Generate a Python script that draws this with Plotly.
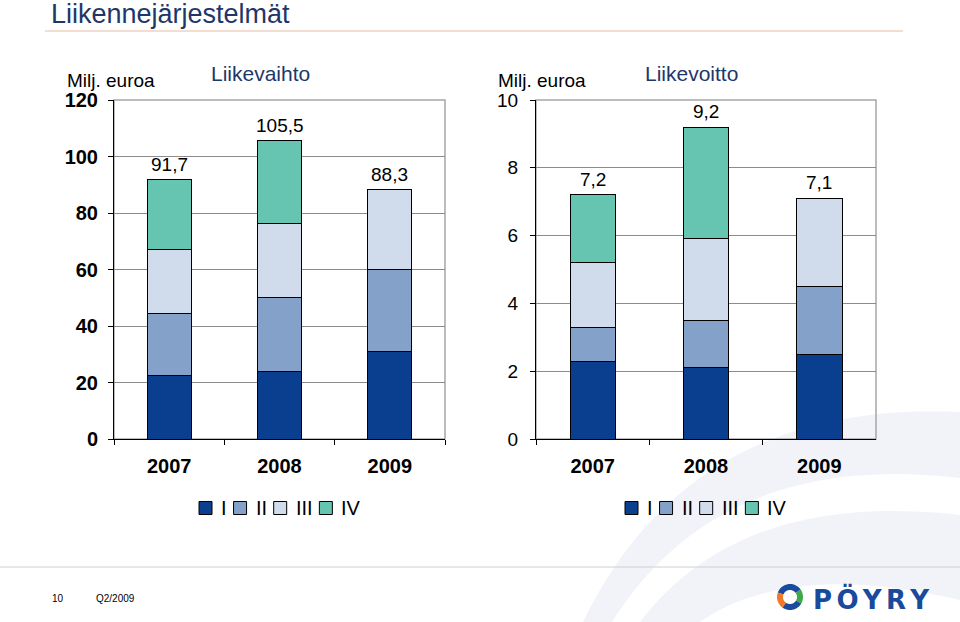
import plotly.graph_objects as go
import numpy as np

# ---------------- data ----------------
years = ["2007", "2008", "2009"]
quarters = ["I", "II", "III", "IV"]

rev_I = [22.6, 23.8, 31.1]
rev_II = [21.7, 26.4, 28.8]
rev_III = [22.8, 26.2, 28.4]
rev_IV = [24.6, 29.1, None]
rev_total = [91.7, 105.5, 88.3]

ebit_I = [2.3, 2.1, 2.5]
ebit_II = [1.0, 1.4, 2.0]
ebit_III = [1.9, 2.4, 2.6]
ebit_IV = [2.0, 3.3, None]
ebit_total = [7.2, 9.2, 7.1]

rev_ticks = [0, 20, 40, 60, 80, 100, 120]
ebit_ticks = [0, 2, 4, 6, 8, 10]

q_colors = ["#0A3F8F", "#84A1C9", "#D0DCEC", "#66C5B0"]

FONT = "Liberation Sans, Arial, sans-serif"
NAVY = "#1E3768"
W, H = 960, 622


def X(px):
    return px / W


def Y(py):
    return 1 - py / H


fig = go.Figure()

rev_series = [rev_I, rev_II, rev_III, rev_IV]
ebit_series = [ebit_I, ebit_II, ebit_III, ebit_IV]

for q, vals, c in zip(quarters, rev_series, q_colors):
    fig.add_trace(go.Bar(x=years, y=vals, name=q, marker=dict(color=c, line=dict(color="#000000", width=1)),
                         xaxis="x", yaxis="y", showlegend=False, hoverinfo="skip"))
for q, vals, c in zip(quarters, ebit_series, q_colors):
    fig.add_trace(go.Bar(x=years, y=vals, name=q, marker=dict(color=c, line=dict(color="#000000", width=1)),
                         xaxis="x2", yaxis="y2", showlegend=False, hoverinfo="skip"))

ydom = [Y(439), Y(100)]

common_x = dict(type="category", tickson="boundaries", ticks="outside", ticklen=5, tickcolor="#000000",
                showline=True, linecolor="#000000", linewidth=1, showgrid=False, range=[-0.5, 2.5],
                tickfont=dict(family=FONT, size=20, color="#000000", weight="bold"), ticklabelstandoff=9,
                fixedrange=True, automargin=False)

fig.update_layout(
    width=W, height=H, margin=dict(l=0, r=0, t=0, b=0, autoexpand=False),
    paper_bgcolor="#FFFFFF", plot_bgcolor="rgba(0,0,0,0)",
    barmode="stack", bargap=0.6,
    font=dict(family=FONT, color="#000000"),
    xaxis=dict(domain=[X(114), X(445)], anchor="y", **common_x),
    xaxis2=dict(domain=[X(536), X(876)], anchor="y2", **common_x),
    yaxis=dict(domain=ydom, anchor="x", range=[0, 120], tickvals=rev_ticks, ticks="outside", ticklen=5,
               tickcolor="#000000", showline=True, linecolor="#000000", linewidth=1,
               gridcolor="#8C8C8C", gridwidth=1, zeroline=False,
               tickfont=dict(family=FONT, size=20, color="#000000", weight="bold"), ticklabelstandoff=6,
               fixedrange=True, automargin=False),
    yaxis2=dict(domain=ydom, anchor="x2", range=[0, 10], tickvals=ebit_ticks, ticks="outside", ticklen=5,
                tickcolor="#000000", showline=True, linecolor="#000000", linewidth=1,
                gridcolor="#8C8C8C", gridwidth=1, zeroline=False,
                tickfont=dict(family=FONT, size=19, color="#000000"), ticklabelstandoff=8,
                fixedrange=True, automargin=False),
    showlegend=False,
)

# ---------------- decorative background swoosh ----------------
def band(outer, inner):
    pts = list(outer) + list(inner)
    d = "M " + " L ".join(f"{X(a):.5f},{Y(b):.5f}" for a, b in pts) + " Z"
    return d


def qcurve(p0, p1, p2, n=40):
    t = np.linspace(0, 1, n)
    xs = (1 - t) ** 2 * p0[0] + 2 * (1 - t) * t * p1[0] + t ** 2 * p2[0]
    ys = (1 - t) ** 2 * p0[1] + 2 * (1 - t) * t * p1[1] + t ** 2 * p2[1]
    return list(zip(xs, ys))


sw1 = band(qcurve((583, 622), (690, 400), (960, 412)), qcurve((960, 478), (720, 450), (612, 622)))
sw2 = band(qcurve((640, 622), (740, 490), (960, 515)), qcurve((960, 600), (790, 560), (700, 622)))
for d in (sw1, sw2):
    fig.add_shape(type="path", path=d, xref="paper", yref="paper", fillcolor="#F1F3F9",
                  line=dict(width=0), layer="below")

# plot-area frames (grey top/right)
for xr, yr in (("x domain", "y domain"), ("x2 domain", "y2 domain")):
    fig.add_shape(type="rect", xref=xr, yref=yr, x0=0, x1=1, y0=0, y1=1,
                  line=dict(color="#A6A6A6", width=1.5), layer="below")

# title rule and footer rule
fig.add_shape(type="line", xref="paper", yref="paper", x0=X(45), x1=X(903), y0=Y(31), y1=Y(31),
              line=dict(color="#E8BBA2", width=1))
fig.add_shape(type="line", xref="paper", yref="paper", x0=0, x1=1, y0=Y(567), y1=Y(567),
              line=dict(color="#CFCFCF", width=1))


# ---------------- texts ----------------
def ptext(txt, x, y, size, color="#000000", xanchor="left", weight="normal", family=FONT):
    fig.add_annotation(text=txt, x=X(x), y=Y(y), xref="paper", yref="paper", showarrow=False,
                       xanchor=xanchor, yanchor="middle",
                       font=dict(family=family, size=size, color=color, weight=weight))


ptext("Liikennejärjestelmät", 49, 14, 27, NAVY)
ptext("Milj. euroa", 65, 80, 19)
ptext("Milj. euroa", 496, 80, 19)
ptext("Liikevaihto", 260, 73, 21, NAVY, "center")
ptext("Liikevoitto", 691, 73, 21, NAVY, "center")
ptext("10", 50, 598, 10)
ptext("Q2/2009", 94, 598, 10)


def fmt(v):
    return f"{v:.1f}".replace(".", ",")


for i, tot in enumerate(rev_total):
    fig.add_annotation(text=fmt(tot), x=i, y=tot, xref="x", yref="y", showarrow=False,
                       yanchor="bottom", yshift=3, font=dict(family=FONT, size=19, color="#000000"))
for i, tot in enumerate(ebit_total):
    fig.add_annotation(text=fmt(tot), x=i, y=tot, xref="x2", yref="y2", showarrow=False,
                       yanchor="bottom", yshift=3, font=dict(family=FONT, size=19, color="#000000"))

# ---------------- legends (one per chart) ----------------
CHAR_W = {"I": 0.278, "V": 0.667}
LEG_SIZE = 20


def draw_legend(x_start, yc):
    x = x_start
    for q, c in zip(quarters, q_colors):
        fig.add_shape(type="rect", xref="paper", yref="paper", x0=X(x), x1=X(x + 13), y0=Y(yc + 6.5),
                      y1=Y(yc - 6.5), fillcolor=c, line=dict(color="#000000", width=1))
        ptext(q, x + 20, yc, LEG_SIZE)
        tw = sum(CHAR_W[ch] for ch in q) * LEG_SIZE
        x = x + 20 + tw + 9


draw_legend(199, 508)
draw_legend(625, 508)

# ---------------- logo ----------------
ptext("<b>P\u2006Ö\u2006Y\u2006R\u2006Y</b>", 811, 599, 26, "#1A4A9C", "left", "bold", "DejaVu Sans, sans-serif")

cx, cy, r_out, r_in = 790, 597, 13, 7


def ring(a0, a1, n=30):
    a = np.radians(np.linspace(a0, a1, n))
    outer = [(cx + r_out * np.cos(t), cy - r_out * np.sin(t)) for t in a]
    inner = [(cx + r_in * np.cos(t), cy - r_in * np.sin(t)) for t in a[::-1]]
    return band(outer, inner)


for a0, a1, col in ((35, 160, "#1A4A9C"), (160, 235, "#F07A2A"), (235, 330, "#1A4A9C"), (330, 395, "#3AAA4A")):
    fig.add_shape(type="path", path=ring(a0, a1), xref="paper", yref="paper", fillcolor=col,
                  line=dict(width=0))

fig.write_html("out.html")
